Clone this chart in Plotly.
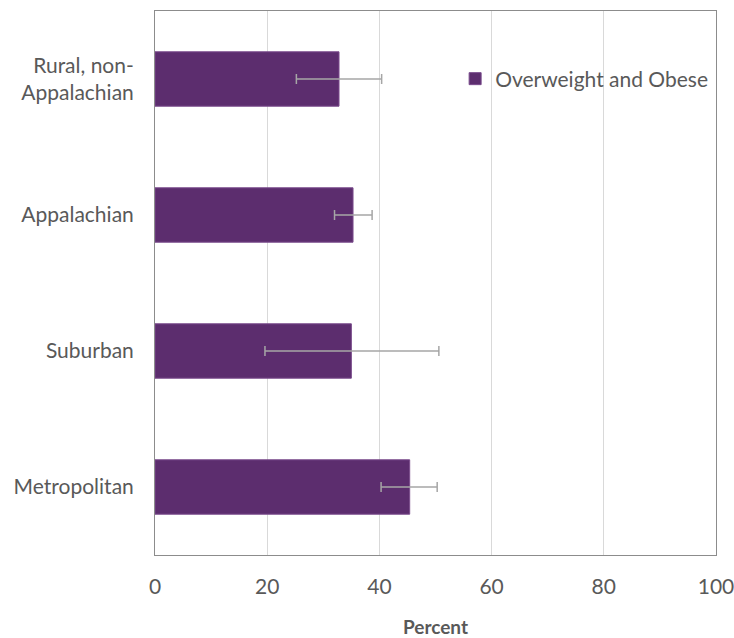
import plotly.graph_objects as go

categories = ["Rural, non-<br>Appalachian", "Appalachian", "Suburban", "Metropolitan"]
values = [32.8, 35.3, 35.0, 45.4]
err_low = [25.2, 32.0, 19.6, 40.3]
err_high = [40.4, 38.7, 50.6, 50.3]
x_ticks = [0, 20, 40, 60, 80, 100]
series_name = "Overweight and Obese"

plus = [h - v for h, v in zip(err_high, values)]
minus = [v - l for l, v in zip(err_low, values)]

FONT = "Lato"
GREY = "#595959"

fig = go.Figure()
fig.add_trace(go.Bar(
    y=categories, x=values, orientation="h", name=series_name,
    marker=dict(color="#5C2D6E", line=dict(color="#7a4b8c", width=1)),
    width=0.4,
    error_x=dict(type="data", symmetric=False, array=plus, arrayminus=minus,
                 color="#a6a6a6", thickness=1.5, width=5),
    showlegend=True,
))

fig.update_layout(
    width=734, height=638,
    margin=dict(l=155, r=18, t=11, b=83, autoexpand=False),
    paper_bgcolor="white", plot_bgcolor="white",
    font=dict(family=FONT, size=21, color=GREY),
    showlegend=True,
    legend=dict(x=0.535, y=0.875, xanchor="left", yanchor="middle",
                font=dict(family=FONT, size=21, color=GREY),
                bgcolor="rgba(0,0,0,0)", itemwidth=30),
    xaxis=dict(range=[0, 100], tickvals=x_ticks, showgrid=True, gridcolor="#d9d9d9",
               gridwidth=1, zeroline=False, showline=True, linecolor="#8c8c8c",
               linewidth=1, mirror=True, ticks="", ticklabelstandoff=13,
               automargin=False, ticklabeloverflow="allow",
               tickfont=dict(family=FONT, size=21, color=GREY),
               title=dict(text="<b>Percent</b>", standoff=23,
                          font=dict(family=FONT, size=19, color=GREY)),
               fixedrange=True),
    yaxis=dict(autorange="reversed", showline=True, linecolor="#8c8c8c", linewidth=1,
               mirror=True, ticks="", ticklabelstandoff=16, automargin=False,
               tickfont=dict(family=FONT, size=21, color=GREY), showgrid=False,
               fixedrange=True),
)

fig.write_html("out.html",
               config={"displayModeBar": False, "staticPlot": True},
               post_script="document.body.style.margin='0';document.body.style.overflow='hidden';")
